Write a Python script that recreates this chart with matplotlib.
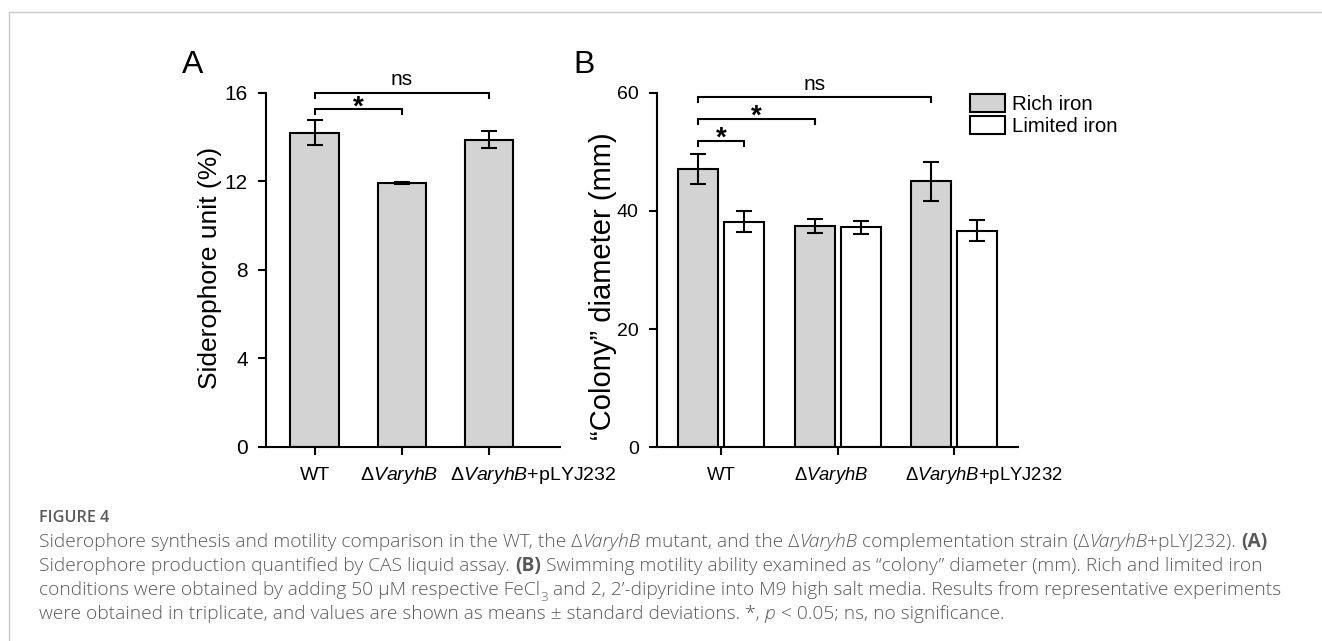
import matplotlib
matplotlib.use("Agg")
import matplotlib.pyplot as plt
from matplotlib.font_manager import FontProperties
from matplotlib.lines import Line2D
import numpy as np

# ---------------- data ----------------
strains = ["WT", "Δ$\\mathit{VaryhB}$", "Δ$\\mathit{VaryhB}$+pLYJ232"]
strain_anchor = ["WT", "Δ$\\mathit{VaryhB}$", "Δ$\\mathit{VaryhB}$"]  # part centred on the tick

siderophore = [14.2, 11.92, 13.88]
siderophore_err = [0.55, 0.06, 0.38]

rich_iron = [47.1, 37.4, 45.0]
rich_iron_err = [2.5, 1.2, 3.3]
limited_iron = [38.2, 37.2, 36.65]
limited_iron_err = [1.85, 1.15, 1.8]

series_labels = ["Rich iron", "Limited iron"]

# significance brackets: (start, end, level, label)
sig_a = [(0, 1, 15.25, "*"), (0, 2, 16.0, "ns")]
sig_b_groups = [((0, "rich"), (0, "limited"), 51.8, "*"),
                ((0, "rich"), (1, "rich"), 55.5, "*"),
                ((0, "rich"), (2, "rich"), 59.3, "ns")]

caption_title = "FIGURE 4"
caption_lines = [
    [("Siderophore synthesis and motility comparison in the WT, the Δ", "n"), ("VaryhB", "i"),
     (" mutant, and the Δ", "n"), ("VaryhB", "i"), (" complementation strain (Δ", "n"),
     ("VaryhB", "i"), ("+pLYJ232). ", "n"), ("(A)", "b")],
    [("Siderophore production quantified by CAS liquid assay. ", "n"), ("(B)", "b"),
     (" Swimming motility ability examined as “colony” diameter (mm). Rich and limited iron", "n")],
    [("conditions were obtained by adding 50 µM respective FeCl", "n"), ("3", "s"),
     (" and 2, 2’-dipyridine into M9 high salt media. Results from representative experiments", "n")],
    [("were obtained in triplicate, and values are shown as means ± standard deviations. *, ", "n"),
     ("p", "i"), (" < 0.05; ns, no significance.", "n")],
]

# ---------------- style ----------------
W, H, DPI = 1322, 641, 100
plt.rcParams["font.family"] = ["Liberation Sans", "DejaVu Sans"]
plt.rcParams["mathtext.fontset"] = "custom"
plt.rcParams["mathtext.rm"] = "Liberation Sans"
plt.rcParams["mathtext.it"] = "Liberation Sans:italic"
plt.rcParams["mathtext.bf"] = "Liberation Sans:bold"

LW = 1.5
GREY = "#d3d3d3"

fig = plt.figure(figsize=(W / DPI, H / DPI), dpi=DPI)
renderer = fig.canvas.get_renderer()


def px_axes(left, top, right, bottom):
    return fig.add_axes([left / W, 1 - bottom / H, (right - left) / W, (bottom - top) / H])


def style_axes(ax, ytick_fs):
    for s in ["top", "right"]:
        ax.spines[s].set_visible(False)
    for s in ["left", "bottom"]:
        ax.spines[s].set_linewidth(LW)
    ax.tick_params(axis="both", direction="out", length=6, width=LW)
    ax.tick_params(axis="y", pad=7, labelsize=ytick_fs)
    ax.tick_params(axis="x", labelbottom=False)


def measure(s, fs):
    t = fig.text(0, 0, s, fontsize=fs)
    w = t.get_window_extent(renderer).width
    t.remove()
    return w


def category_labels(ax, xs, fs, shifts):
    for x, lab, anchor, sh in zip(xs, strains, strain_anchor, shifts):
        if lab == anchor:
            ax.annotate(lab, xy=(x, 0), xycoords=("data", "axes fraction"),
                        xytext=(sh, -33), textcoords="offset pixels",
                        ha="center", va="baseline", fontsize=fs, annotation_clip=False)
        else:
            dx = -measure(anchor, fs) / 2 + sh
            ax.annotate(lab, xy=(x, 0), xycoords=("data", "axes fraction"),
                        xytext=(dx, -33), textcoords="offset pixels",
                        ha="left", va="baseline", fontsize=fs, annotation_clip=False)


def bracket(ax, x1, x2, y, drop, label, fs, dy_text):
    ax.plot([x1, x1, x2, x2], [y - drop, y, y, y - drop], color="black", lw=LW,
            clip_on=False, solid_joinstyle="miter")
    weight = "bold" if label == "*" else "normal"
    ax.text((x1 + x2) / 2, y + dy_text, label, ha="center", va="baseline",
            fontsize=fs, fontweight=weight, clip_on=False)


# ---------------- panel A ----------------
axA = px_axes(266, 92.7, 560, 446.7)
style_axes(axA, 15)
xa = np.arange(len(strains))
axA.bar(xa, siderophore, width=0.563, color=GREY, edgecolor="black", linewidth=LW, zorder=2)
axA.errorbar(xa, siderophore, yerr=siderophore_err, fmt="none", ecolor="black",
             elinewidth=LW, capsize=5.5, capthick=LW, zorder=3)
axA.set_xlim(-0.563, 2.816)
axA.set_ylim(0, 16)
axA.set_yticks([0, 4, 8, 12, 16])
axA.set_xticks(xa)
category_labels(axA, xa, 14, [0, -3, 0])
for (i, j, lvl, lab) in sig_a:
    bracket(axA, xa[i], xa[j], lvl, 0.23, lab,
            20 if lab == "*" else 15, -0.25 if lab == "*" else 0.37)

# ---------------- panel B ----------------
axB = px_axes(656.7, 92.7, 1018.3, 447.3)
style_axes(axB, 14)
xb = np.arange(len(strains))
off, bw = 0.198, 0.344
pos = {"rich": xb - off, "limited": xb + off}
axB.bar(pos["rich"], rich_iron, width=bw, color=GREY, edgecolor="black", linewidth=LW,
        zorder=2, label=series_labels[0])
axB.bar(pos["limited"], limited_iron, width=bw, color="white", edgecolor="black",
        linewidth=LW, zorder=2, label=series_labels[1])
axB.errorbar(pos["rich"], rich_iron, yerr=rich_iron_err, fmt="none", ecolor="black",
             elinewidth=LW, capsize=5.5, capthick=LW, zorder=3)
axB.errorbar(pos["limited"], limited_iron, yerr=limited_iron_err, fmt="none", ecolor="black",
             elinewidth=LW, capsize=5.5, capthick=LW, zorder=3)
axB.set_xlim(-0.555, 2.553)
axB.set_ylim(0, 60)
axB.set_yticks([0, 20, 40, 60])
axB.set_xticks(xb)
category_labels(axB, xb, 13.3, [0, -6, -12])
for (a, b, lvl, lab) in sig_b_groups:
    x1 = pos[a[1]][a[0]]
    x2 = pos[b[1]][b[0]]
    bracket(axB, x1, x2, lvl, 0.85, lab,
            20 if lab == "*" else 15, -0.7 if lab == "*" else 1.2)

fs_leg = 14.8
fs_px = fs_leg * DPI / 72
leg = axB.legend(loc="upper left", bbox_to_anchor=(970 / W, 1 - 94 / H),
                 bbox_transform=fig.transFigure, frameon=False, fontsize=fs_leg,
                 handlelength=35 / fs_px, handleheight=19.5 / fs_px,
                 handletextpad=0.35, labelspacing=0.12, borderpad=0, borderaxespad=0)

# axis labels and panel letters
fig.text(210 / W, 1 - 268 / H, "Siderophore unit (%)", rotation=90, ha="center", va="center",
         fontsize=19)
fig.text(603 / W, 1 - 286 / H, "“Colony” diameter (mm)", rotation=90, ha="center", va="center",
         fontsize=21)
fig.text(182 / W, 1 - 73 / H, "A", fontsize=23, ha="left", va="baseline")
fig.text(573 / W, 1 - 73 / H, "B", fontsize=23, ha="left", va="baseline")

# ---------------- page frame ----------------
fig.add_artist(Line2D([9 / W, 1], [1 - 12 / H, 1 - 12 / H], transform=fig.transFigure,
                      color="#c8c8c8", lw=1.0))
fig.add_artist(Line2D([9 / W, 9 / W], [0, 1 - 12 / H], transform=fig.transFigure,
                      color="#c8c8c8", lw=1.0))

# ---------------- caption ----------------
CAP_COLOR = "#595959"
CAP_FAMILY = ["Open Sans", "DejaVu Sans"]


def fprops(style, size):
    if style == "i":
        return FontProperties(family=CAP_FAMILY, style="italic", weight="light", size=size)
    if style == "b":
        return FontProperties(family=CAP_FAMILY, weight="bold", size=size)
    if style == "s":
        return FontProperties(family=CAP_FAMILY, weight="light", size=size * 0.7)
    return FontProperties(family=CAP_FAMILY, weight="light", size=size)


def text_width(s, fp):
    t1 = fig.text(0, 0, "|" + s + "|", fontproperties=fp)
    w1 = t1.get_window_extent(renderer).width
    t1.remove()
    t2 = fig.text(0, 0, "||", fontproperties=fp)
    w2 = t2.get_window_extent(renderer).width
    t2.remove()
    return w1 - w2


def line_width(pieces, size):
    return sum(text_width(s, fprops(st, size)) for s, st in pieces)


cap_x0 = 39
cap_target = 1266 - cap_x0
base = 12.0
cap_size = base * cap_target / line_width(caption_lines[0], base)


def draw_line(pieces, x, y, size):
    cur = x
    for s, st in pieces:
        fp = fprops(st, size)
        dy = -0.3 * size * DPI / 72 if st == "s" else 0
        fig.text(cur / W, 1 - (y - dy) / H, s, fontproperties=fp, color=CAP_COLOR,
                 ha="left", va="baseline")
        cur += text_width(s, fp)


fig.text(cap_x0 / W, 1 - 522 / H, caption_title, color=CAP_COLOR, ha="left", va="baseline",
         fontproperties=FontProperties(family=CAP_FAMILY, weight="semibold", size=cap_size * 0.85))
for k, pieces in enumerate(caption_lines):
    draw_line(pieces, cap_x0, 547 + 24 * k, cap_size)

fig.savefig("out.png", dpi=DPI)
